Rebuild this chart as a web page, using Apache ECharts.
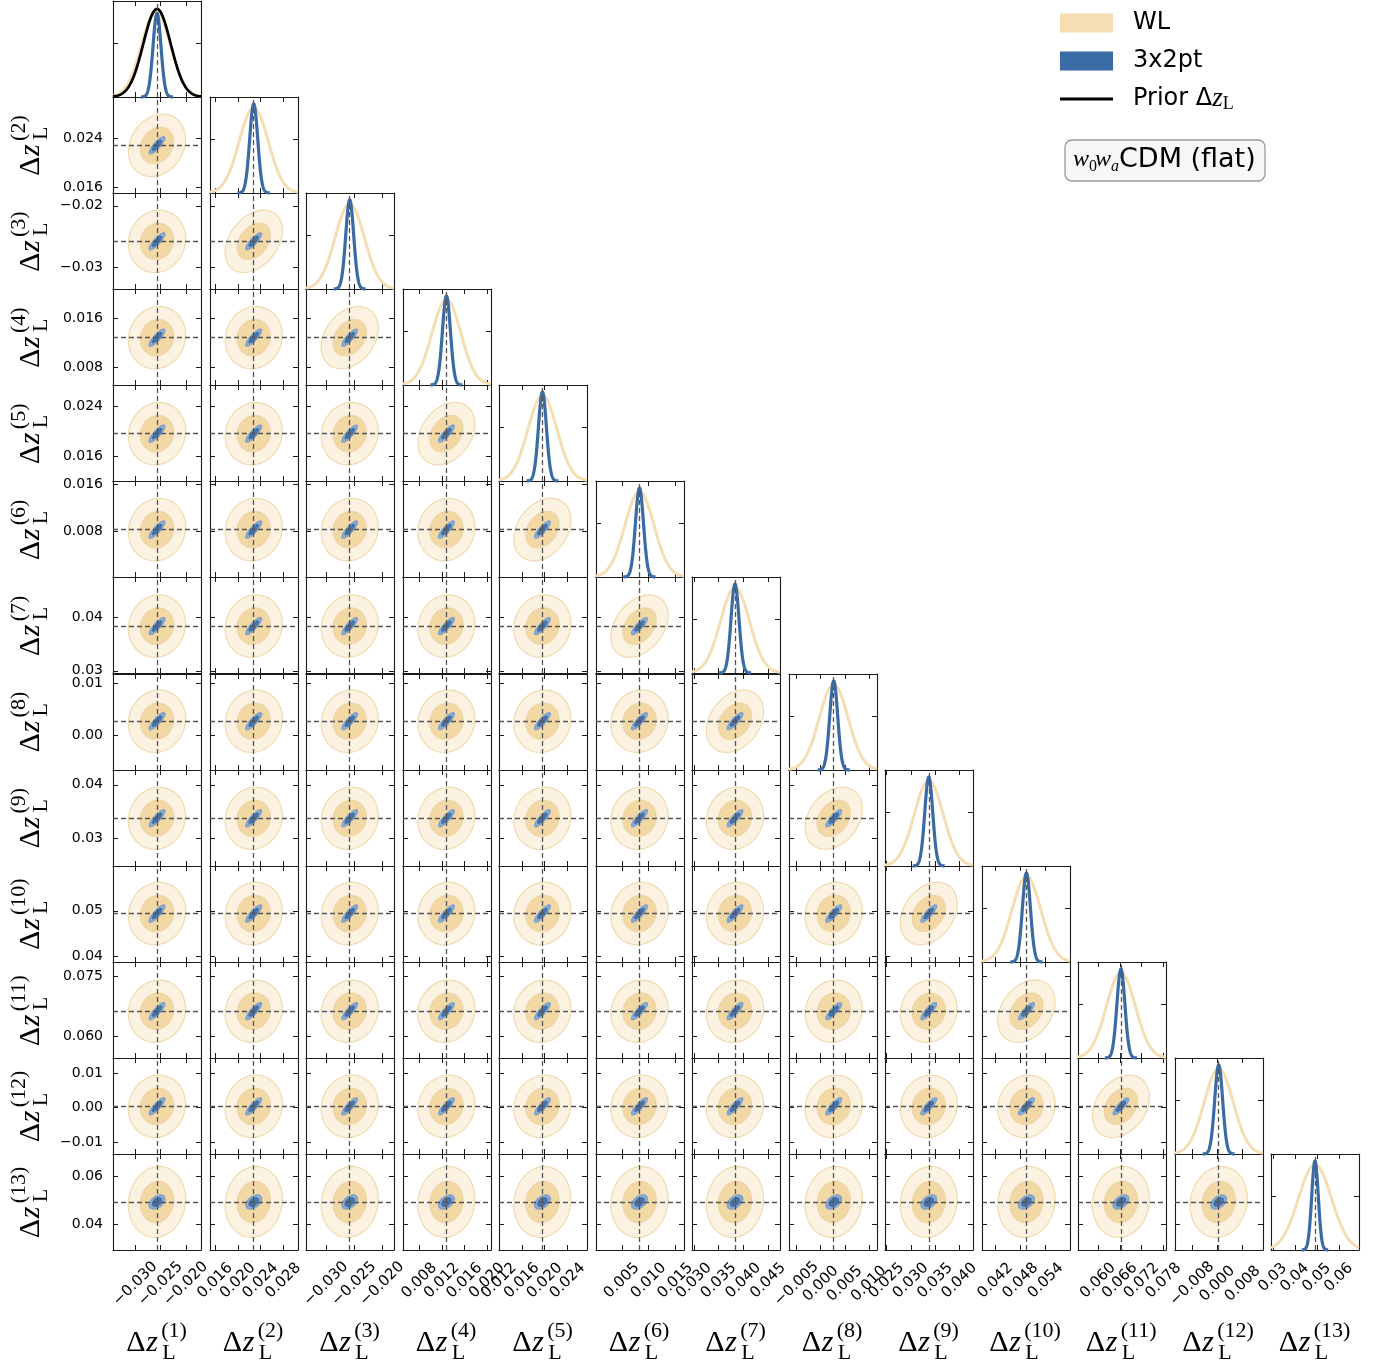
<!DOCTYPE html>
<html>
<head>
<meta charset="utf-8">
<script src="https://cdn.jsdelivr.net/npm/echarts@6/dist/echarts.min.js"></script>
<style>
  html, body { margin: 0; padding: 0; background: #fff; }
  #chart { width: 1384px; height: 1367px; }
</style>
</head>
<body>
<div id="chart"></div>
<script>
// bin labels
const names = ['1', '2', '3', '4', '5', '6', '7', '8', '9', '10', '11', '12', '13']

// fiducial values (dashed lines) and plotted ranges
const fiducial = [-0.0257, 0.0228, -0.0258, 0.0128, 0.0196, 0.0083, 0.0383, 0.0027, 0.0337, 0.0494, 0.0663, 0.0004, 0.0492]
const axisMin = [-0.0344, 0.0151, -0.0336, 0.0051, 0.0120, 0.0002, 0.0296, -0.0066, 0.0247, 0.0388, 0.0545, -0.0134, 0.0292]
const axisMax = [-0.0170, 0.0306, -0.0179, 0.0207, 0.0274, 0.0166, 0.0474, 0.0117, 0.0428, 0.0598, 0.0787, 0.0144, 0.0692]

// marginal widths
const sigmaWL = [0.00287, 0.00256, 0.00259, 0.00257, 0.00254, 0.00271, 0.00294, 0.00302, 0.00297, 0.00347, 0.00399, 0.00459, 0.0075]
const sigma3x2 = [0.00079, 0.00071, 0.00071, 0.00071, 0.00070, 0.00075, 0.00081, 0.00083, 0.00082, 0.00096, 0.0011, 0.00126, 0.0015]
const muWL1 = -0.0259
const sigmaPrior1 = 0.0027

// correlations
const rhoWLNext = [0.2, 0.35, 0.3, 0.3, 0.3, 0.35, 0.3, 0.3, 0.3, 0.3, 0.3, 0.1]
const rhoWLFar = 0.08
const rho3x2 = 0.85
const rho3x2Bin13 = 0.45

// peak heights of the 1D curves
const peakWL = 0.96
const peak3x2 = [0.94, 1.0, 1.0, 1.0, 1.0, 1.0, 1.0, 1.0, 1.0, 1.0, 1.0, 1.0, 1.0]
const peakPrior = 0.99
const diagTicks = [0.6]

// contour radii in units of sigma (inner, outer)
const contourLevels = [1.15, 1.97]

// tick labels
const xTickLabels = [
  ['-0.030', '-0.025', '-0.020'],
  ['0.016', '0.020', '0.024', '0.028'],
  ['-0.030', '-0.025', '-0.020'],
  ['0.008', '0.012', '0.016', '0.020'],
  ['0.012', '0.016', '0.020', '0.024'],
  ['0.005', '0.010', '0.015'],
  ['0.030', '0.035', '0.040', '0.045'],
  ['-0.005', '0.000', '0.005', '0.010'],
  ['0.025', '0.030', '0.035', '0.040'],
  ['0.042', '0.048', '0.054'],
  ['0.060', '0.066', '0.072', '0.078'],
  ['-0.008', '0.000', '0.008'],
  ['0.03', '0.04', '0.05', '0.06']
]
const yTickLabels = [
  [],
  ['0.016', '0.024'],
  ['-0.03', '-0.02'],
  ['0.008', '0.016'],
  ['0.016', '0.024'],
  ['0.008', '0.016'],
  ['0.03', '0.04'],
  ['0.00', '0.01'],
  ['0.03', '0.04'],
  ['0.04', '0.05'],
  ['0.060', '0.075'],
  ['-0.01', '0.00', '0.01'],
  ['0.04', '0.06']
]

const WL_COLOR = '#f5deb3'
const BLUE = '#3b6ba5'
const N = names.length
const LEFT0 = 113, TOP0 = 1, COL_STEP = 96.5, ROW_STEP = 96.08, PW = 88, PH = 96
const LINE = '#1a1a1a'

const chart = echarts.init(document.getElementById('chart'), null, { renderer: 'canvas' })

const toText = s => s.replace('-', '\u2212')

function labelFormatter(labels) {
  return v => {
    const s = labels.find(t => Math.abs(Number(t) - v) < 1e-9)
    return s ? toText(s) : ''
  }
}

function makeAxis(gridIndex, position, min, max, labels, showLabels, isX) {
  const ticks = labels.map(Number)
  const maxLen = labels.reduce((m, t) => Math.max(m, t.length), 0)
  const axis = {
    type: 'value',
    gridIndex,
    position,
    min,
    max,
    axisLine: { show: true, onZero: false, lineStyle: { color: LINE, width: 1.1 } },
    axisTick: { show: true, inside: true, length: 5, customValues: ticks, lineStyle: { color: LINE, width: 1 } },
    axisLabel: {
      show: showLabels,
      customValues: ticks,
      formatter: labelFormatter(labels),
      fontFamily: 'DejaVu Sans',
      fontSize: 14,
      color: '#000'
    },
    splitLine: { show: false }
  }
  if (isX && showLabels) {
    axis.axisLabel.fontSize = 15
    axis.axisLabel.rotate = 45
    axis.axisLabel.align = 'center'
    axis.axisLabel.verticalAlign = 'middle'
    axis.axisLabel.margin = 11 + (maxLen * 8.9 + 11) / 2.83
  } else if (showLabels) {
    axis.axisLabel.margin = 10
  }
  return axis
}

// Gaussian curve drawn over [mu - span*sigma, mu + span*sigma] clipped to the panel
function curveRender(lo, hi, span, color, width) {
  return (params, api) => {
    const mu = api.value(0), s = api.value(1), h = api.value(2)
    const a = Math.max(lo, mu - span * s), b = Math.min(hi, mu + span * s)
    const pts = []
    const n = 160
    for (let k = 0; k <= n; k++) {
      const x = a + (b - a) * k / n
      pts.push(api.coord([x, h * Math.exp(-0.5 * ((x - mu) / s) ** 2)]))
    }
    return { type: 'polyline', shape: { points: pts }, style: { stroke: color, lineWidth: width, fill: null } }
  }
}

function ellipseRender(fills, strokes) {
  return (params, api) => {
    const mx = api.value(0), my = api.value(1), sx = api.value(2), sy = api.value(3), rho = api.value(4)
    const levels = contourLevels.slice().reverse()
    const children = levels.map((lv, k) => {
      const pts = []
      for (let t = 0; t < 90; t++) {
        const a = t / 90 * 2 * Math.PI
        const x = mx + lv * sx * Math.cos(a)
        const y = my + lv * sy * (rho * Math.cos(a) + Math.sqrt(1 - rho * rho) * Math.sin(a))
        pts.push(api.coord([x, y]))
      }
      return { type: 'polygon', shape: { points: pts }, style: { fill: fills[k], stroke: strokes[k], lineWidth: 1.2 } }
    })
    return { type: 'group', children }
  }
}

const dashStyle = { color: '#555', width: 1.3, type: [5, 3] }
const markBase = { silent: true, precision: 6, symbol: ['none', 'none'], label: { show: false }, lineStyle: dashStyle }

const grid = [], xAxis = [], yAxis = [], series = []
let g = 0
for (let r = 0; r < N; r++) {
  for (let c = 0; c <= r; c++) {
    grid.push({ left: Math.round(LEFT0 + c * COL_STEP), top: Math.round(TOP0 + r * ROW_STEP), width: PW, height: PH })
    const xi = xAxis.length, yi = yAxis.length
    xAxis.push(makeAxis(g, 'bottom', axisMin[c], axisMax[c], xTickLabels[c], r === N - 1, true))
    xAxis.push(makeAxis(g, 'top', axisMin[c], axisMax[c], xTickLabels[c], false, true))
    if (r === c) {
      const dy = { type: 'value', gridIndex: g, min: 0, max: 1.08,
        axisLine: { show: true, onZero: false, lineStyle: { color: LINE, width: 1.1 } },
        axisTick: { show: true, inside: true, length: 5, customValues: diagTicks, lineStyle: { color: LINE } },
        axisLabel: { show: false }, splitLine: { show: false } }
      yAxis.push(Object.assign({ position: 'left' }, dy))
      yAxis.push(Object.assign({ position: 'right' }, dy))
      series.push({
        type: 'custom', name: 'WL', xAxisIndex: xi, yAxisIndex: yi, silent: true,
        itemStyle: { color: WL_COLOR },
        data: [[c === 0 ? muWL1 : fiducial[c], sigmaWL[c], peakWL]],
        renderItem: curveRender(axisMin[c], axisMax[c], 10, WL_COLOR, 3), z: 2
      })
      series.push({
        type: 'custom', name: '3x2pt', xAxisIndex: xi, yAxisIndex: yi, silent: true,
        itemStyle: { color: BLUE },
        data: [[fiducial[c], sigma3x2[c], peak3x2[c]]],
        renderItem: curveRender(axisMin[c], axisMax[c], 4, BLUE, 3.2), z: 3,
        markLine: Object.assign({}, markBase, { data: [{ xAxis: fiducial[c] }] })
      })
      if (c === 0) {
        series.push({
          type: 'custom', name: 'Prior', xAxisIndex: xi, yAxisIndex: yi, silent: true,
          itemStyle: { color: '#000' },
          data: [[fiducial[c], sigmaPrior1, peakPrior]],
          renderItem: curveRender(axisMin[c], axisMax[c], 10, '#000', 2.7), z: 4
        })
      }
    } else {
      yAxis.push(makeAxis(g, 'left', axisMin[r], axisMax[r], yTickLabels[r], c === 0, false))
      yAxis.push(makeAxis(g, 'right', axisMin[r], axisMax[r], yTickLabels[r], false, false))
      const rhoWL = (r - c === 1) ? rhoWLNext[c] : rhoWLFar
      const rhoB = (r === N - 1) ? rho3x2Bin13 : rho3x2
      series.push({
        type: 'custom', name: 'WL', xAxisIndex: xi, yAxisIndex: yi, silent: true,
        itemStyle: { color: WL_COLOR },
        data: [[fiducial[c], fiducial[r], sigmaWL[c], sigmaWL[r], rhoWL]],
        renderItem: ellipseRender(['rgba(245,222,179,0.38)', '#f2d8a5'], ['rgba(240,214,165,0.9)', 'rgba(236,204,150,0.6)']), z: 2
      })
      series.push({
        type: 'custom', name: '3x2pt', xAxisIndex: xi, yAxisIndex: yi, silent: true,
        itemStyle: { color: BLUE },
        data: [[fiducial[c], fiducial[r], sigma3x2[c], sigma3x2[r], rhoB]],
        renderItem: ellipseRender(['#88a9d0', '#4874aa'], ['#7d9fc9', '#406ea6']), z: 3,
        markLine: Object.assign({}, markBase, { data: [{ xAxis: fiducial[c] }, { yAxis: fiducial[r] }] })
      })
    }
    g++
  }
}

// axis titles  Δz_L^(i)
function mathTitle(i, cx, cy, vertical) {
  const sup = '(' + names[i] + ')'
  const supW = 22 * (0.666 + 0.5 * names[i].length)
  const W = 36 + supW
  const x0 = -W / 2
  const parts = [
    { text: '\u0394', x: x0, y: 0, font: '30px "Liberation Serif"' },
    { text: 'z', x: x0 + 20, y: 0, font: 'italic 30px "Liberation Serif"' },
    { text: 'L', x: x0 + 36, y: 10, font: '22px "Liberation Serif"' },
    { text: sup, x: x0 + 35, y: -12, font: '22px "Liberation Serif"' }
  ]
  return {
    type: 'group', x: cx, y: cy, rotation: vertical ? Math.PI / 2 : 0,
    children: parts.map(p => ({ type: 'text', x: p.x, y: p.y, style: { text: p.text, font: p.font, fill: '#000', verticalAlign: 'middle' } }))
  }
}

const graphics = []
for (let i = 0; i < N; i++) {
  graphics.push(mathTitle(i, LEFT0 + i * COL_STEP + PW / 2, 1343, false))
  if (i > 0) graphics.push(mathTitle(i, 31, TOP0 + i * ROW_STEP + PH / 2, true))
}

// model box
graphics.push({ type: 'rect', shape: { x: 1065, y: 140, width: 200, height: 41, r: 7 }, style: { fill: '#f7f7f7', stroke: '#9a9a9a', lineWidth: 1.3 } })
const boxParts = [
  { text: 'w', x: 1073, y: 160, font: 'italic 24px "Liberation Serif"' },
  { text: '0', x: 1089, y: 167, font: '16px "Liberation Serif"' },
  { text: 'w', x: 1095, y: 160, font: 'italic 24px "Liberation Serif"' },
  { text: 'a', x: 1111, y: 167, font: 'italic 16px "Liberation Serif"' },
  { text: 'CDM (flat)', x: 1119, y: 160, font: '27px "DejaVu Sans"' }
]
boxParts.forEach(p => graphics.push({ type: 'text', x: p.x, y: p.y, style: { text: p.text, font: p.font, fill: '#000', verticalAlign: 'middle' } }))

const legendBase = {
  orient: 'vertical', left: 1060, padding: 0, itemWidth: 53, itemHeight: 19, selectedMode: false,
  textStyle: { fontFamily: 'DejaVu Sans', fontSize: 24, color: '#000', lineHeight: 28, padding: [0, 0, 0, 15] }
}
const legend = [
  Object.assign({}, legendBase, { top: 9, data: [{ name: 'WL', icon: 'rect' }] }),
  Object.assign({}, legendBase, { top: 47, data: [{ name: '3x2pt', icon: 'rect' }] }),
  Object.assign({}, legendBase, {
    top: 85, data: [{ name: 'Prior', icon: 'path://M0,0H53V3H0Z' }],
    formatter: () => 'Prior \u0394{z|z}{s|L}',
    textStyle: Object.assign({}, legendBase.textStyle, {
      rich: {
        z: { fontFamily: 'Liberation Serif', fontStyle: 'italic', fontSize: 27, lineHeight: 28 },
        s: { fontFamily: 'Liberation Serif', fontSize: 18, lineHeight: 28, padding: [10, 0, 0, 0] }
      }
    })
  })
]

chart.setOption({
  animation: false,
  backgroundColor: '#fff',
  legend,
  grid,
  xAxis,
  yAxis,
  series,
  graphic: { elements: graphics }
})
</script>
</body>
</html>
